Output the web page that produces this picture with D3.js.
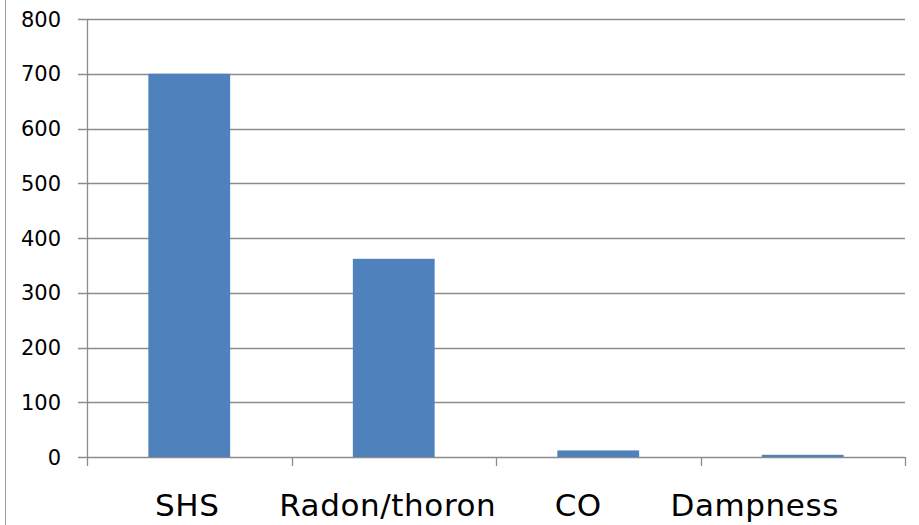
<!DOCTYPE html>
<html><head><meta charset="utf-8">
<script src="https://cdn.jsdelivr.net/npm/d3@7"></script>
<style>
html,body{margin:0;padding:0;background:#fff;}
svg{display:block;font-family:"DejaVu Sans",Verdana,sans-serif;}
</style></head>
<body>
<svg id="chart" width="919" height="525"></svg>
<script>
const categories = ["SHS", "Radon/thoron", "CO", "Dampness"];
const values = [700, 362, 12, 4];
const yTicks = [0, 100, 200, 300, 400, 500, 600, 700, 800];

const svg = d3.select("#chart");
const mLeft = 87, mRight = 905, mTop = 19, mBottom = 457;
// horizontal nudges of the category captions (layout only)
const labelNudge = [-2, -6, -20, -48];

const x = d3.scaleBand().domain(categories).range([mLeft, mRight])
  .paddingInner(0.6).paddingOuter(0.3);
const xb = d3.scaleBand().domain(categories).range([mLeft, mRight]).padding(0);
const y = d3.scaleLinear().domain([0, 800]).range([mBottom, mTop]);

// left border
svg.append("line").attr("x1", 5.5).attr("x2", 5.5).attr("y1", 0).attr("y2", 525)
  .attr("stroke", "#a0a0a0").attr("stroke-width", 1);

// gridlines + y ticks
svg.append("g").selectAll("line").data(yTicks).join("line")
  .attr("x1", mLeft - 9).attr("x2", mRight)
  .attr("y1", d => Math.round(y(d)) + 0.5).attr("y2", d => Math.round(y(d)) + 0.5)
  .attr("stroke", "#8c8c8c").attr("stroke-width", 1.3);

// y axis
svg.append("line").attr("x1", mLeft + 0.5).attr("x2", mLeft + 0.5)
  .attr("y1", mTop).attr("y2", mBottom + 9)
  .attr("stroke", "#8c8c8c").attr("stroke-width", 1.3);

// category ticks
const bounds = categories.map(c => xb(c) + xb.bandwidth());
svg.append("g").selectAll("line").data(bounds).join("line")
  .attr("x1", d => Math.round(d) + 0.5).attr("x2", d => Math.round(d) + 0.5)
  .attr("y1", mBottom).attr("y2", mBottom + 9)
  .attr("stroke", "#8c8c8c").attr("stroke-width", 1.3);

// bars
svg.append("g").selectAll("rect").data(values).join("rect")
  .attr("x", (d, i) => x(categories[i]))
  .attr("width", x.bandwidth())
  .attr("y", d => y(d))
  .attr("height", d => y(0) - y(d))
  .attr("fill", "#4f81bd");

// y labels
svg.append("g").selectAll("text").data(yTicks).join("text")
  .attr("x", 61).attr("y", d => y(d))
  .attr("dy", "0.36em")
  .attr("text-anchor", "end")
  .attr("font-size", 21)
  .attr("fill", "#000")
  .text(d => d);

// x labels
svg.append("g").selectAll("text").data(categories).join("text")
  .attr("x", (d, i) => xb(d) + xb.bandwidth() / 2 + labelNudge[i])
  .attr("y", 516)
  .attr("text-anchor", "middle")
  .attr("font-size", 31)
  .attr("letter-spacing", 0.6)
  .attr("fill", "#000")
  .text(d => d);
</script>
</body></html>
